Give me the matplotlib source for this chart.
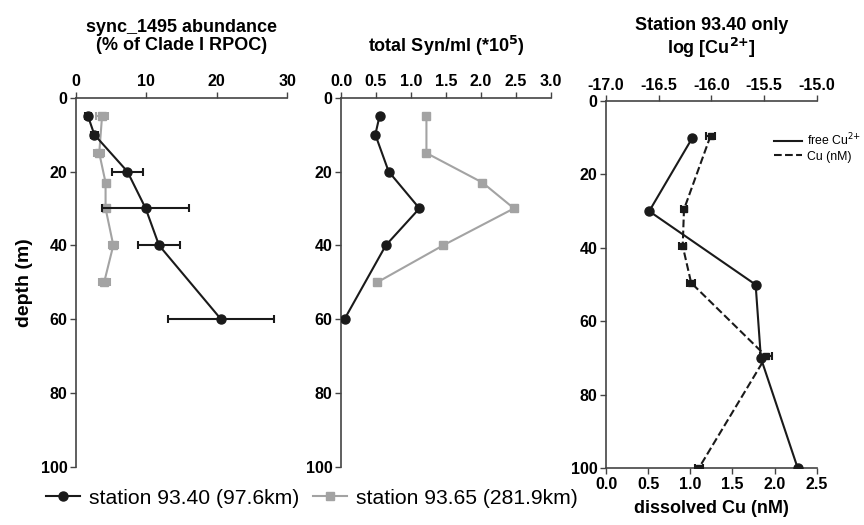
import matplotlib
matplotlib.use("Agg")
import matplotlib.pyplot as plt
from matplotlib.lines import Line2D
from matplotlib.ticker import FuncFormatter

plt.rcParams['font.family'] = ['Liberation Sans', 'DejaVu Sans']

# Panel 1: sync_1495 abundance (% of Clade I RPOC)
p1_black_depth = [5, 10, 20, 30, 40, 60]
p1_black_val = [1.7, 2.6, 7.3, 9.9, 11.8, 20.6]
p1_black_err = [0.4, 0.5, 2.2, 6.2, 3.0, 7.5]
p1_gray_depth = [5, 15, 23, 30, 40, 50]
p1_gray_val = [3.7, 3.3, 4.2, 4.2, 5.3, 4.0]
p1_gray_err = [0.8, 0.7, 0.2, 0.2, 0.6, 0.8]

# Panel 2: total Syn/ml (*10^5)
p2_black_depth = [5, 10, 20, 30, 40, 60]
p2_black_val = [0.55, 0.49, 0.68, 1.12, 0.64, 0.05]
p2_gray_depth = [5, 15, 23, 30, 40, 50]
p2_gray_val = [1.22, 1.22, 2.02, 2.47, 1.46, 0.52]

# Panel 3: Station 93.40 only
free_cu_depth = [10, 30, 50, 70, 100]
free_cu_log = [-16.18, -16.59, -15.58, -15.53, -15.18]
diss_cu_depth = [9.5, 29.5, 39.5, 49.5, 69.5, 100]
diss_cu_nM = [1.24, 0.925, 0.91, 1.01, 1.90, 1.10]
diss_cu_err = [0.05, 0.04, 0.04, 0.05, 0.07, 0.05]

BLACK = '#1a1a1a'
GRAY = '#a3a3a3'
SPINE = '#444444'

fig = plt.figure(figsize=(8.64, 5.25), dpi=100)

H = 0.7029
B = 0.1110
ax1 = fig.add_axes([0.0880, B, 0.2442, H])
ax2 = fig.add_axes([0.3947, B, 0.2431, H])
ax3 = fig.add_axes([0.7014, 0.108, 0.2439, 0.6996])

tick_kw = dict(labelsize=11.5, width=1.0, length=4, color=SPINE, pad=2)
TITLE_FS = 13

def style_depth_axis(ax):
    ax.set_ylim(100, 0)
    ax.set_yticks([0, 20, 40, 60, 80, 100])
    for s in ['right', 'bottom']:
        ax.spines[s].set_visible(False)
    for s in ['left', 'top']:
        ax.spines[s].set_color(SPINE)
        ax.spines[s].set_linewidth(1.2)
    ax.xaxis.tick_top()
    ax.tick_params(axis='both', **tick_kw)
    for lbl in ax.get_xticklabels() + ax.get_yticklabels():
        lbl.set_fontweight('bold')

# Panel 1
ax1.errorbar(p1_gray_val, p1_gray_depth, xerr=p1_gray_err, color=GRAY, marker='s',
             ms=6, lw=1.5, capsize=3, elinewidth=1.5, capthick=1.5, zorder=2)
ax1.errorbar(p1_black_val, p1_black_depth, xerr=p1_black_err, color=BLACK, marker='o',
             ms=6.5, lw=1.5, capsize=3, elinewidth=1.5, capthick=1.5, zorder=3)
ax1.set_xlim(0, 30)
ax1.set_xticks([0, 10, 20, 30])
style_depth_axis(ax1)
ax1.set_ylabel('depth (m)', fontsize=14, fontweight='bold', labelpad=6)
ax1.set_title('sync_1495 abundance\n(% of Clade I RPOC)', fontsize=TITLE_FS, fontweight='bold',
              pad=34, linespacing=1.1)

# Panel 2
ax2.plot(p2_gray_val, p2_gray_depth, color=GRAY, marker='s', ms=6, lw=1.5, zorder=2)
ax2.plot(p2_black_val, p2_black_depth, color=BLACK, marker='o', ms=6.5, lw=1.5, zorder=3)
ax2.set_xlim(0, 3.0)
ax2.set_xticks([0, 0.5, 1.0, 1.5, 2.0, 2.5, 3.0])
ax2.xaxis.set_major_formatter(FuncFormatter(lambda v, p: f'{v:.1f}'))
style_depth_axis(ax2)
ax2.set_title('total Syn/ml (*10$^{\\mathbf{5}}$)', fontsize=TITLE_FS, fontweight='bold', pad=33)

# Panel 3
ax3.set_ylim(100, 0)
ax3.set_yticks([0, 20, 40, 60, 80, 100])
ax3.set_xlim(0, 2.5)
ax3.set_xticks([0, 0.5, 1.0, 1.5, 2.0, 2.5])
ax3.xaxis.set_major_formatter(FuncFormatter(lambda v, p: f'{v:.1f}'))
ax3.errorbar(diss_cu_nM, diss_cu_depth, xerr=diss_cu_err, color=BLACK, marker='s', ms=5,
             lw=1.5, ls='--', capsize=3, elinewidth=1.5, capthick=1.5, zorder=3)
for s in ['right', 'top']:
    ax3.spines[s].set_visible(False)
for s in ['left', 'bottom']:
    ax3.spines[s].set_color(SPINE)
    ax3.spines[s].set_linewidth(1.2)
ax3.tick_params(axis='both', **tick_kw)
for lbl in ax3.get_xticklabels() + ax3.get_yticklabels():
    lbl.set_fontweight('bold')
ax3.set_xlabel('dissolved Cu (nM)', fontsize=13, fontweight='bold', labelpad=6)

ax3t = ax3.twiny()
ax3t.plot(free_cu_log, free_cu_depth, color=BLACK, marker='o', ms=6.5, lw=1.5, zorder=3)
ax3t.set_xlim(-17.0, -15.0)
ax3t.set_xticks([-17.0, -16.5, -16.0, -15.5, -15.0])
ax3t.xaxis.set_major_formatter(FuncFormatter(lambda v, p: f'{v:.1f}'.replace('\u2212', '-')))
for s in ['right', 'bottom', 'left']:
    ax3t.spines[s].set_visible(False)
ax3t.spines['top'].set_color(SPINE)
ax3t.spines['top'].set_linewidth(1.2)
ax3t.tick_params(axis='x', **tick_kw)
for lbl in ax3t.get_xticklabels():
    lbl.set_fontweight('bold')
ax3t.set_title('Station 93.40 only\nlog [Cu$^{\\mathbf{2{+}}}$]', fontsize=TITLE_FS,
               fontweight='bold', pad=34, linespacing=1.1)

leg3_handles = [Line2D([], [], color=BLACK, lw=1.5, ls='-'),
                Line2D([], [], color=BLACK, lw=1.5, ls='--')]
ax3t.legend(leg3_handles, ['free Cu$^{2{+}}$', 'Cu (nM)'], loc='upper left',
            bbox_to_anchor=(0.775, 0.93), frameon=False, fontsize=8.8, handlelength=2.3,
            handletextpad=0.35, labelspacing=0.2, borderaxespad=0)

# Bottom legend
handles = [Line2D([], [], color=BLACK, marker='o', ms=6.5, lw=1.5),
           Line2D([], [], color=GRAY, marker='s', ms=6, lw=1.5)]
fig.legend(handles, ['station 93.40 (97.6km)', 'station 93.65 (281.9km)'], loc='center',
           bbox_to_anchor=(312 / 864, 0.051), ncol=2, frameon=False, fontsize=15.2,
           handlelength=1.6, handletextpad=0.45, columnspacing=0.65)

fig.savefig('out.png', dpi=100)
